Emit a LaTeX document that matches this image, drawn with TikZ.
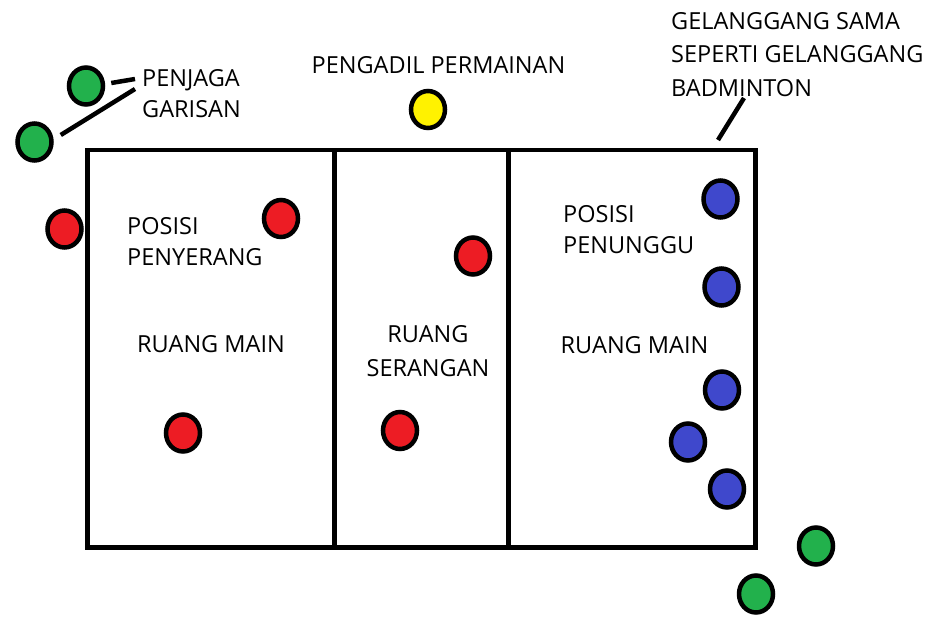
\documentclass[tikz,border=0pt]{standalone}
\usepackage{fontspec}
\setmainfont{Open Sans}
\usetikzlibrary{positioning, shapes.geometric}
\definecolor{paintGreen}{HTML}{22B14C}
\definecolor{paintYellow}{HTML}{FFF200}
\definecolor{paintRed}{HTML}{ED1C24}
\definecolor{paintBlue}{HTML}{3F48CC}

\begin{document}
\begin{tikzpicture}[
    x=1pt, y=-1pt,
    player/.style={ellipse, draw=black, line width=4.5pt, minimum width=34pt, minimum height=37pt, inner sep=0pt},
    label/.style={inner sep=0pt, font=\fontsize{23.5}{31}\selectfont},
    courtline/.style={line width=4.5pt},
    pointer/.style={line width=4.5pt}
]
    \useasboundingbox (0,0) rectangle (934,632);

    % gelanggang
    \draw[courtline] (87.5,150) rectangle (755.5,547.5);
    \draw[courtline] (334.5,150) -- (334.5,547.5);
    \draw[courtline] (508.5,150) -- (508.5,547.5);

    % pemain dan pegawai
    \node[player, fill=paintGreen] (lineA) at (86,86) {};
    \node[player, fill=paintGreen] (lineB) at (34.5,142) {};
    \node[player, fill=paintGreen] (lineC) at (816,546) {};
    \node[player, fill=paintGreen] (lineD) at (756,594) {};
    \node[player, fill=paintYellow] (referee) at (428,109.5) {};
    \node[player, fill=paintRed] (chaserA) at (64.5,229) {};
    \node[player, fill=paintRed] (chaserB) at (281,218.5) {};
    \node[player, fill=paintRed] (chaserC) at (473,256) {};
    \node[player, fill=paintRed] (chaserD) at (183,433) {};
    \node[player, fill=paintRed] (chaserE) at (400,430.5) {};
    \node[player, fill=paintBlue] (runnerA) at (720.5,199) {};
    \node[player, fill=paintBlue] (runnerB) at (721.5,287) {};
    \node[player, fill=paintBlue] (runnerC) at (722,390) {};
    \node[player, fill=paintBlue] (runnerD) at (688,442) {};
    \node[player, fill=paintBlue] (runnerE) at (727,489) {};

    % teks
    \node[label, anchor=north west, align=left] (linesman) at (142,69) {PENJAGA\\GARISAN};
    \node[label, anchor=north] (refereeText) at (438.5,56) {PENGADIL PERMAINAN};
    \node[label, anchor=north west, align=left, font=\fontsize{23.5}{33.5}\selectfont] (note) at (671,12) {GELANGGANG SAMA\\SEPERTI GELANGGANG\\BADMINTON};
    \node[label, anchor=north west, align=left] (chaserText) at (127,217) {POSISI\\PENYERANG};
    \node[label, anchor=north] (playLeft) at (211,335) {RUANG MAIN};
    \node[label, anchor=north, align=center, font=\fontsize{23.5}{34}\selectfont] (attackZone) at (428,325) {RUANG\\SERANGAN};
    \node[label, anchor=north west, align=left] (runnerText) at (563,205) {POSISI\\PENUNGGU};
    \node[label, anchor=north] (playRight) at (634.5,336) {RUANG MAIN};

    \coordinate (courtTip) at (718,140);

    \draw[pointer] ([shift={(6,-3)}]lineA.east) -- ([shift={(-7,10)}]linesman.north west);
    \draw[pointer] ([shift={(7,-7)}]lineB.east) -- ([shift={(-7,20)}]linesman.north west);
    \draw[pointer] (courtTip) -- ([shift={(73,86)}]note.north west);
\end{tikzpicture}
\end{document}
